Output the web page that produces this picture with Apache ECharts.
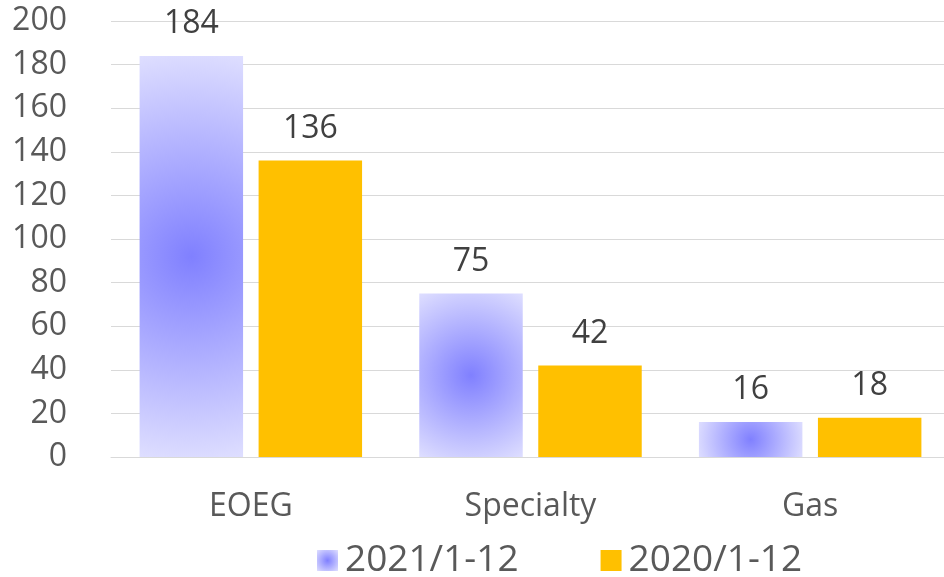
<!DOCTYPE html>
<html lang="en">
<head>
    <meta charset="UTF-8">
    <title>EOEG / Specialty / Gas</title>
    <script src="https://cdn.jsdelivr.net/npm/echarts@6/dist/echarts.min.js"></script>
</head>
<body style="margin:0">
<div id="main" style="width: 944px;height:577px;"></div>

<script type="text/javascript">

    var categories = ['EOEG', 'Specialty', 'Gas'];
    var seriesNames = ['2021/1-12', '2020/1-12'];
    var values2021 = [184, 75, 16];
    var values2020 = [136, 42, 18];

    var fontFamily = '"Open Sans", sans-serif';

    // radial fill like the office chart: radius reaches the bar corners
    function radialFill(v) {
        var w = 104;
        var h = v * 2.18;
        var r = Math.sqrt(w * w + h * h) / 2 / Math.min(w, h);
        return new echarts.graphic.RadialGradient(0.5, 0.5, r, [
            {offset: 0, color: '#8080FF'},
            {offset: 1, color: '#DEDEFF'}
        ]);
    }

    var myChart = echarts.init(document.getElementById('main'));

    myChart.setOption({
        animation: false,
        grid: {
            left: 111,
            width: 839,
            top: 21,
            bottom: 120,
            outerBoundsMode: 'none'
        },
        legend: {
            left: 312,
            top: 537,
            icon: 'rect',
            itemWidth: 21,
            itemHeight: 21,
            itemGap: 82,
            textStyle: {
                fontFamily: fontFamily,
                fontSize: 37,
                color: '#595959',
                padding: [0, 0, 0, 2]
            },
            data: seriesNames
        },
        xAxis: {
            type: 'category',
            data: categories,
            axisTick: {show: false},
            axisLine: {lineStyle: {color: '#D9D9D9', width: 1}},
            axisLabel: {
                fontFamily: fontFamily,
                fontSize: 32,
                color: '#595959',
                margin: 34
            }
        },
        yAxis: {
            type: 'value',
            min: 0,
            max: 200,
            interval: 20,
            axisLine: {show: false},
            axisTick: {show: false},
            splitLine: {lineStyle: {color: '#D9D9D9', width: 1}},
            axisLabel: {
                fontFamily: fontFamily,
                fontSize: 32,
                color: '#595959',
                margin: 44
            }
        },
        series: [{
            name: seriesNames[0],
            type: 'bar',
            barWidth: '37%',
            barGap: '15%',
            itemStyle: {
                color: new echarts.graphic.RadialGradient(0.5, 0.5, 0.7, [
                    {offset: 0, color: '#8080FF'},
                    {offset: 1, color: '#DEDEFF'}
                ])
            },
            label: {
                show: true,
                position: 'top',
                distance: 16,
                fontFamily: fontFamily,
                fontSize: 32,
                color: '#404040'
            },
            data: values2021.map(function (v) {
                return {value: v, itemStyle: {color: radialFill(v)}};
            })
        }, {
            name: seriesNames[1],
            type: 'bar',
            barWidth: '37%',
            itemStyle: {color: '#FFC000'},
            label: {
                show: true,
                position: 'top',
                distance: 16,
                fontFamily: fontFamily,
                fontSize: 32,
                color: '#404040'
            },
            data: values2020
        }]
    });

</script>
</body>
</html>
